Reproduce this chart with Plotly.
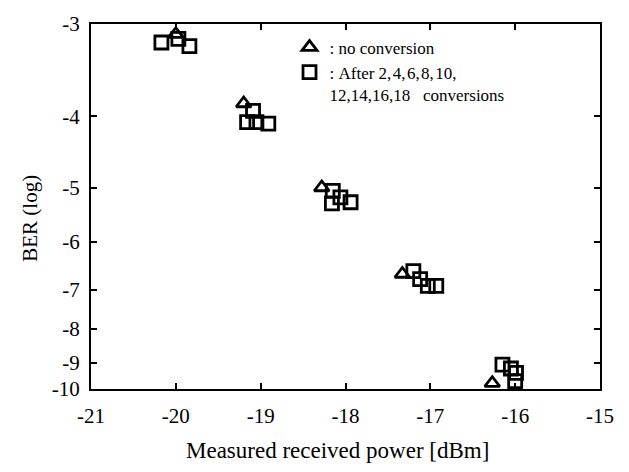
import numpy as np
import plotly.graph_objects as go

# ---- data (log10 BER vs received power, dBm) ----
tri_x = [-20.00, -19.20, -18.28, -17.33, -16.27]
tri_y = [-3.11, -3.86, -5.00, -6.67, -9.78]

sq_x = [-20.17, -19.97, -19.84,
        -19.09, -19.16, -19.05, -18.91,
        -18.15, -18.16, -18.06, -17.94,
        -17.20, -17.12, -17.03, -16.93,
        -16.15, -16.05, -15.99, -16.00]
sq_y = [-3.20, -3.16, -3.24,
        -3.94, -4.08, -4.08, -4.10,
        -5.06, -5.29, -5.18, -5.27,
        -6.61, -6.78, -6.92, -6.92,
        -9.07, -9.22, -9.39, -9.70]

x_ticks = [-21, -20, -19, -18, -17, -16, -15]
y_ticks = [-10, -9, -8, -7, -6, -5, -4, -3]

# nonlinear BER axis (probability-type scale), normalised axis position of each decade
ber_scale_pos = [0.0, 0.072, 0.1653, 0.272, 0.4027, 0.552, 0.7467, 1.0]


def ber_axis(v):
    return np.interp(v, y_ticks, ber_scale_pos)


FONT = "Liberation Serif, Times New Roman, serif"
NB = "\u00a0"
HS = "\u200a"

fig = go.Figure()
fig.add_trace(go.Scatter(
    x=tri_x, y=ber_axis(tri_y), mode="markers",
    name=":" + NB + "no conversion",
    marker=dict(symbol="triangle-up-open", size=13, color="black",
                line=dict(width=2.8, color="black")),
))
fig.add_trace(go.Scatter(
    x=sq_x, y=ber_axis(sq_y), mode="markers",
    name=":" + NB + "After" + NB + "2," + HS + "4," + HS + "6," + HS + "8," + HS + "10,<br>"
         + "12,14,16,18" + NB * 3 + "conversions",
    marker=dict(symbol="square-open", size=13, color="black",
                line=dict(width=2.8, color="black")),
))

axis_common = dict(
    showline=True, linecolor="black", linewidth=2, mirror="allticks",
    ticks="inside", ticklen=6, tickwidth=2, tickcolor="black",
    showgrid=False, zeroline=False,
    tickfont=dict(family=FONT, size=21, color="black"),
)

fig.update_xaxes(range=[-21, -15], tickvals=x_ticks,
                 ticktext=[str(t) for t in x_ticks],
                 ticklabelstandoff=7, **axis_common)
fig.update_yaxes(range=[0, 1], tickvals=ber_axis(y_ticks),
                 ticktext=[str(t) for t in y_ticks],
                 ticklabelstandoff=5, **axis_common)

fig.update_layout(
    width=629, height=472,
    margin=dict(l=91, r=29, t=14, b=83),
    plot_bgcolor="white", paper_bgcolor="white",
    font=dict(family=FONT, color="black"),
    showlegend=True,
    legend=dict(x=0.39, y=0.985, xanchor="left", yanchor="top",
                bgcolor="rgba(0,0,0,0)", tracegroupgap=0, valign="top",
                font=dict(family=FONT, size=17, color="black")),
    annotations=[
        dict(text="Measured received power [dBm]", xref="paper", yref="paper",
             x=0.485, y=-0.168, xanchor="center", yanchor="middle",
             showarrow=False, font=dict(family=FONT, size=23, color="black")),
        dict(text="BER (log)", xref="paper", yref="paper", textangle=-90,
             x=-0.12, y=0.469, xanchor="center", yanchor="middle",
             showarrow=False, font=dict(family=FONT, size=21, color="black")),
    ],
)

fig.write_html("out.html")
